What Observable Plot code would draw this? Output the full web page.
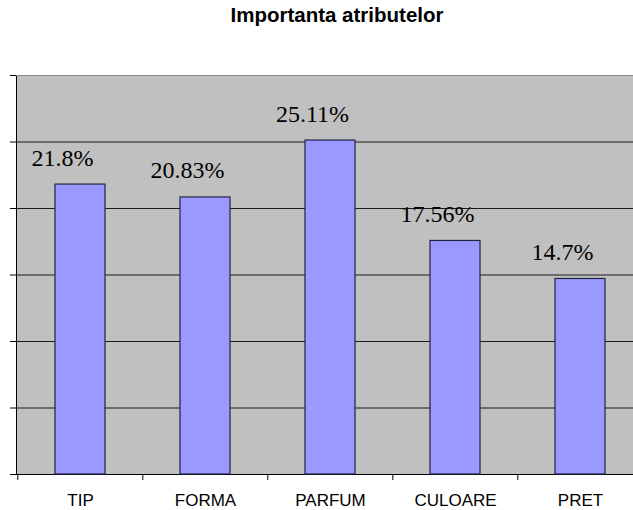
<!DOCTYPE html>
<html>
<head>
<meta charset="utf-8">
<script src="https://cdn.jsdelivr.net/npm/d3@7"></script>
<script src="https://cdn.jsdelivr.net/npm/@observablehq/plot@0.6"></script>
<style>
  html, body { margin: 0; padding: 0; background: #fff; overflow: hidden; }
  #wrap { width: 633px; height: 510px; overflow: hidden; position: relative; }
  #title {
    width: 674px; height: 40px; box-sizing: border-box; padding-top: 5px;
    text-align: center; font: bold 20.5px "Liberation Sans", Arial, sans-serif;
    line-height: 20.5px; color: #000;
  }
  #chart { width: 645px; }
  #chart svg { display: block; overflow: visible; max-width: none !important; }
</style>
</head>
<body>
<div id="wrap">
  <div id="title">Importanta atributelor</div>
  <div id="chart"></div>
</div>
<script>
// Attribute importance (%)
const categories = ["TIP", "FORMA", "PARFUM", "CULOARE", "PRET"];
const importance = [21.8, 20.83, 25.11, 17.56, 14.7];
const valueLabels = ["21.8%", "20.83%", "25.11%", "17.56%", "14.7%"];
const gridTicks = [0, 5, 10, 15, 20, 25, 30];

const rows = categories.map((c, i) => ({category: c, value: importance[i], label: valueLabels[i]}));

const width = 645, marginLeft = 16, marginRight = 2;
const step = (width - marginLeft - marginRight) / categories.length;

const chart = Plot.plot({
  width,
  height: 470,
  marginTop: 35,
  marginBottom: 36,
  marginLeft,
  marginRight,
  style: {background: "transparent", overflow: "visible", maxWidth: "none"},
  x: {domain: categories, paddingInner: 0.6, paddingOuter: 0.3},
  y: {domain: [0, 30]},
  marks: [
    Plot.frame({fill: "#c0c0c0", stroke: "#000"}),
    Plot.ruleY(gridTicks.slice(1, -1), {stroke: "#1a1a1a", strokeWidth: 1.2}),
    Plot.ruleY([30], {stroke: "#8a8a8a", strokeWidth: 1.2}),
    Plot.barY(rows, {x: "category", y: "value", fill: "#9999ff", stroke: "#222244", strokeWidth: 1.2}),
    Plot.axisY({ticks: gridTicks, tickSize: 6, tickFormat: () => "", label: null, stroke: "#000"}),
    // category separators below the baseline
    Plot.ruleX(categories, {x: d => d, y1: 0, y2: -0.45, dx: -step / 2, stroke: "#000"}),
    Plot.ruleX(categories.slice(-1), {x: d => d, y1: 0, y2: -0.45, dx: step / 2, stroke: "#000"}),
    Plot.axisX({
      tickSize: 0, tickPadding: 19, fontSize: 17,
      fontFamily: "Liberation Sans, Arial, sans-serif", fill: "#000", label: null
    }),
    Plot.text(rows, {
      x: "category", y: "value", text: "label",
      dy: -19, dx: -18, lineAnchor: "bottom",
      fontSize: 24, fontFamily: "Liberation Serif, Times New Roman, serif", fill: "#000"
    })
  ]
});
document.getElementById("chart").appendChild(chart);
</script>
</body>
</html>
